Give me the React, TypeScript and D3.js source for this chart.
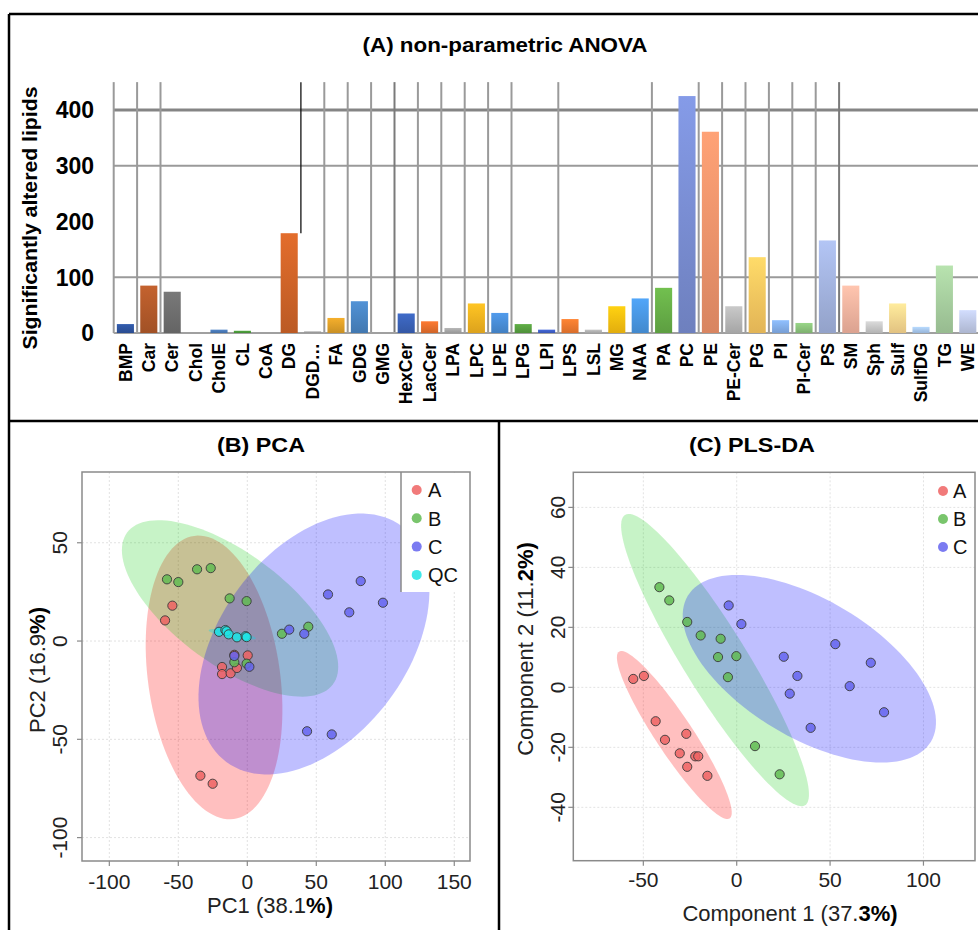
import React from "react";
import * as d3 from "d3";

// ---------- Panel A data ----------
const categories = ["BMP","Car","Cer","Chol","CholE","CL","CoA","DG","DGD…","FA","GDG","GMG","HexCer","LacCer","LPA","LPC","LPE","LPG","LPI","LPS","LSL","MG","NAA","PA","PC","PE","PE-Cer","PG","PI","PI-Cer","PS","SM","Sph","Sulf","SulfDG","TG","WE"];
const counts = [16,85,74,0,6,4,0,179,3,27,57,0,35,21,9,53,36,16,6,25,6,48,62,81,425,361,48,136,23,18,166,85,21,53,11,121,41];
const barColors = ["#2f55a0","#b35a2a","#6f6f6f","#999999","#4a7ab8","#4a9a3a","#888888","#d06428","#a0a0a0","#e0a028","#4a86c4","#999999","#3a62b8","#e8702e","#a8a8a8","#f5b420","#4a8ed8","#58a040","#3f60c8","#f27a30","#b4b4b4","#fcc010","#4a98e4","#68b048","#7a8ed4","#f0946c","#b8b8b8","#fcc860","#84b0ec","#8cc47c","#a4b4e0","#f4b4a0","#c8c8c8","#fcd890","#a8c8f0","#a8d0a0","#c0cae8"];
const barTicks = [0,100,200,300,400];
const barGridValues = [100,300,400];
const gridBoundaries = [0,1,2,9,10,11,12,13,14,15,16,17,19,23,25,26,27,28,29,30,31];

// ---------- Panel B (PCA) data ----------
const pcaA = [[-54.3,18.0],[-59.6,10.5],[0.3,-7.3],[-18.3,-13.2],[-18.3,-16.8],[-12.1,-16.4],[-7.5,-13.7],[-34.0,-68.5],[-25.1,-72.6],[-9.4,-7.0]];
const pcaB = [[-58.2,31.4],[-50,30.0],[-36.4,36.5],[-26.5,37.1],[-12.8,21.7],[-0.5,20.3],[25.1,3.7],[44.2,7.3],[-9.4,-10.8],[-0.5,-11.5]];
const pcaC = [[30.4,5.8],[41.3,3.7],[58.5,23.7],[82.2,30.5],[98.3,19.5],[73.9,14.6],[43.3,-45.9],[61.2,-47.5],[1.5,-13.1],[-9.4,-7.6]];
const pcaQC = [[-20.5,4.7],[-15.9,5.6],[-15,5.0],[-13.5,3.4],[-7.5,1.9],[-1.2,2.5],[-0.5,2.0]];
const pcaEllipses = [
  { g: "A", cx: -24.1, cy: -18.5, ux: 14.4, uy: -72.0, vx: -47.4, vy: -4.7 },
  { g: "B", cx: -12.5, cy: 16.6, ux: 74.6, uy: -38.6, vx: -24.1, vy: -22.9 },
  { g: "C", cx: 48.3, cy: -1.5, ux: 63.5, uy: 60.0, vx: 54.5, vy: -28.4 },
  { g: "QC", cx: -10.9, cy: 3.4, ux: 17.1, uy: -2.1, vx: -0.4, vy: -1.7 },
];
const pcaXTicks = [-100,-50,0,50,100,150];
const pcaYTicks = [-100,-50,0,50];

// ---------- Panel C (PLS-DA) data ----------
const plsA = [[-55.4,2.8],[-49.7,3.8],[-43.4,-11.3],[-38.4,-17.5],[-27.0,-15.5],[-30.5,-22.0],[-26.5,-26.5],[-22.2,-23.0],[-20.6,-23.0],[-15.7,-29.5]];
const plsB = [[-41.4,33.4],[-36.1,29.0],[-26.5,21.8],[-19.3,17.3],[-8.6,16.2],[-10.0,10.1],[-0.2,10.4],[-4.7,3.4],[9.8,-19.6],[23.0,-29.0]];
const plsC = [[-4.3,27.3],[2.5,21.1],[52.8,14.4],[25.2,10.2],[71.8,8.2],[32.5,3.8],[60.5,0.4],[28.4,-2.1],[78.9,-8.3],[39.6,-13.5]];
const plsEllipses = [
  { g: "A", cx: -33.4, cy: -15.9, ux: 29.6, uy: -27.8, vx: -8.3, vy: -3.4 },
  { g: "B", cx: -11.6, cy: 9.1, ux: 48.2, uy: -48.4, vx: -14.4, vy: -5.6 },
  { g: "C", cx: 38.9, cy: 6.2, ux: 65.1, uy: -24.3, vx: -19.0, vy: -19.7 },
];
const plsXTicks = [-50,0,50,100];
const plsYTicks = [-40,-20,0,20,40,60];

const groupFill: Record<string,string> = { A: "#ee6363", B: "#62bb52", C: "#6464ee", QC: "#1ee4e4" };
const ellipseFill: Record<string,string> = { A: "rgba(255,0,0,0.25)", B: "rgba(0,200,0,0.22)", C: "rgba(0,0,255,0.25)", QC: "rgba(0,220,240,0.35)" };

const FONT = "Liberation Sans, Arial, Helvetica, sans-serif";

function ellipsePath(e: any, xs: any, ys: any) {
  const pts: [number, number][] = d3.range(0, 120).map((i) => {
    const t = (i / 120) * Math.PI * 2;
    return [xs(e.cx + e.ux * Math.cos(t) + e.vx * Math.sin(t)), ys(e.cy + e.uy * Math.cos(t) + e.vy * Math.sin(t))];
  });
  return d3.line().curve(d3.curveLinearClosed)(pts) as string;
}

function Scatter(props: any) {
  const { xs, ys, xTicks, yTicks, ellipses, groups, tickLabelY, yTickX } = props;
  const [x0, x1] = xs.range();
  const [y0, y1] = ys.range(); // y0 bottom, y1 top
  return (
    <g>
      {xTicks.map((t: number) => (
        <line key={"gx" + t} x1={xs(t)} x2={xs(t)} y1={y1} y2={y0} stroke="#e2e2e2" strokeDasharray="2,2" />
      ))}
      {yTicks.map((t: number) => (
        <line key={"gy" + t} x1={x0} x2={x1} y1={ys(t)} y2={ys(t)} stroke="#e2e2e2" strokeDasharray="2,2" />
      ))}
      {ellipses.map((e: any) => (
        <path key={"e" + e.g} d={ellipsePath(e, xs, ys)} fill={ellipseFill[e.g]} stroke="none" />
      ))}
      {groups.map((gr: any) =>
        gr.pts.map((p: number[], i: number) => (
          <circle key={gr.g + i} cx={xs(p[0])} cy={ys(p[1])} r={4.6} fill={groupFill[gr.g]} fillOpacity={0.85} stroke="#3a3a3a" strokeWidth={0.9} />
        ))
      )}
      <rect x={x0} y={y1} width={x1 - x0} height={y0 - y1} fill="none" stroke="#8a8a8a" strokeWidth={1.5} />
      {xTicks.map((t: number) => (
        <g key={"xt" + t}>
          <line x1={xs(t)} x2={xs(t)} y1={y0} y2={y0 + 5} stroke="#8a8a8a" strokeWidth={1.2} />
          <text x={xs(t)} y={tickLabelY} textAnchor="middle" fontSize={21} fontFamily={FONT} fill="#222">{t}</text>
        </g>
      ))}
      {yTicks.map((t: number) => (
        <g key={"yt" + t}>
          <line x1={x0 - 5} x2={x0} y1={ys(t)} y2={ys(t)} stroke="#8a8a8a" strokeWidth={1.2} />
          <text transform={`translate(${yTickX},${ys(t)}) rotate(-90)`} textAnchor="middle" fontSize={21} fontFamily={FONT} fill="#222">{t}</text>
        </g>
      ))}
    </g>
  );
}

export default function App() {
  const W = 978, H = 930;
  const xb = d3.scaleBand().domain(categories).range([113.7, 979.5]).paddingInner(0.27).paddingOuter(0.135);
  const yb = d3.scaleLinear().domain([0, 400]).range([333, 110]);
  const gridTop = yb(450);
  const step = xb.step();
  const boundary = (k: number) => (xb(categories[k]) as number) - (step * 0.27) / 2;

  const pcaX = d3.scaleLinear().domain([-119.8, 161.4]).range([82, 470]);
  const pcaY = d3.scaleLinear().domain([-111.9, 86]).range([861, 472]);
  const plsX = d3.scaleLinear().domain([-87.5, 127.6]).range([573.3, 975]);
  const plsY = d3.scaleLinear().domain([-57.8, 71.7]).range([860.7, 472.3]);

  const pcaLegend = ["A", "B", "C", "QC"];
  const plsLegend = ["A", "B", "C"];

  return (
    <div style={{ position: "absolute", left: 0, top: 0 }}>
      <svg width={W} height={H} style={{ display: "block", background: "#fff" }}>
        <defs>
          {barColors.map((c, i) => (
            <linearGradient key={i} id={"bg" + i} x1="0" y1="0" x2="0" y2="1">
              <stop offset="0%" stopColor={d3.color(c)!.brighter(0.25).formatHex()} />
              <stop offset="100%" stopColor={d3.color(c)!.darker(0.3).formatHex()} />
            </linearGradient>
          ))}
        </defs>
        <rect x={0} y={0} width={W} height={H} fill="#fff" />

        {/* ===== Panel A ===== */}
        <text x={505} y={52} textAnchor="middle" fontSize={21} fontWeight="bold" fontFamily={FONT} textLength={285} lengthAdjust="spacingAndGlyphs">(A) non-parametric ANOVA</text>
        {barGridValues.map((v) => (
          <line key={"hg" + v} x1={113.7} x2={W} y1={yb(v)} y2={yb(v)} stroke={v === 400 ? "#858585" : "#9a9a9a"} strokeWidth={v === 400 ? 3 : 2} />
        ))}
        {gridBoundaries.map((k) => (
          <line key={"vg" + k} x1={boundary(k)} x2={boundary(k)} y1={gridTop} y2={yb(0)} stroke={k === 31 || k === 12 ? "#7a7a7a" : "#9a9a9a"} strokeWidth={2} />
        ))}
        <line x1={boundary(8)} x2={boundary(8)} y1={gridTop} y2={yb(counts[7])} stroke="#111" strokeWidth={1.3} />
        <line x1={113.7} x2={W} y1={yb(0)} y2={yb(0)} stroke="#a0a0a0" strokeWidth={2} />
        {categories.map((c, i) => (
          <rect key={"b" + c} x={xb(c)} y={yb(counts[i])} width={xb.bandwidth()} height={yb(0) - yb(counts[i])} fill={`url(#bg${i})`} />
        ))}
        {barTicks.map((t) => (
          <text key={"bt" + t} x={94} y={yb(t)} dy="0.36em" textAnchor="end" fontSize={23} fontWeight="bold" fontFamily={FONT}>{t}</text>
        ))}
        <text transform="translate(37,218) rotate(-90)" textAnchor="middle" fontSize={21} fontWeight="bold" fontFamily={FONT} textLength={263} lengthAdjust="spacingAndGlyphs">Significantly altered lipids</text>
        {categories.map((c) => (
          <text key={"cl" + c} transform={`translate(${(xb(c) as number) + xb.bandwidth() / 2},343) rotate(-90)`} textAnchor="end" dy="0.35em" fontSize={17.5} fontWeight="bold" fontFamily={FONT}>{c}</text>
        ))}

        {/* ===== Panel B ===== */}
        <text x={261} y={452} textAnchor="middle" fontSize={21} fontWeight="bold" fontFamily={FONT} textLength={88} lengthAdjust="spacingAndGlyphs">(B) PCA</text>
        <Scatter xs={pcaX} ys={pcaY} xTicks={pcaXTicks} yTicks={pcaYTicks} ellipses={pcaEllipses}
          groups={[{ g: "A", pts: pcaA }, { g: "B", pts: pcaB }, { g: "C", pts: pcaC }, { g: "QC", pts: pcaQC }]}
          tickLabelY={889} yTickX={67} />
        <rect x={401} y={473} width={68} height={119} fill="#fff" />
        <line x1={401} x2={401} y1={472} y2={592} stroke="#8a8a8a" strokeWidth={1.5} />
        {pcaLegend.map((g, i) => (
          <g key={"pl" + g}>
            <circle cx={416.7} cy={490 + i * 28.3} r={5} fill={groupFill[g]} fillOpacity={0.85} />
            <text x={428} y={490 + i * 28.3} dy="0.36em" fontSize={20} fontFamily={FONT} fill="#111">{g}</text>
          </g>
        ))}
        <text x={270} y={913} textAnchor="middle" fontSize={22} fontFamily={FONT} fill="#222">PC1 (38.1<tspan fontWeight="bold" fill="#000">%)</tspan></text>
        <text transform="translate(45,670) rotate(-90)" textAnchor="middle" fontSize={22} fontFamily={FONT} fill="#222">PC2 (16.9<tspan fontWeight="bold" fill="#000">%)</tspan></text>

        {/* ===== Panel C ===== */}
        <text x={752} y={452} textAnchor="middle" fontSize={21} fontWeight="bold" fontFamily={FONT} textLength={126} lengthAdjust="spacingAndGlyphs">(C) PLS-DA</text>
        <Scatter xs={plsX} ys={plsY} xTicks={plsXTicks} yTicks={plsYTicks} ellipses={plsEllipses}
          groups={[{ g: "A", pts: plsA }, { g: "B", pts: plsB }, { g: "C", pts: plsC }]}
          tickLabelY={887} yTickX={565} />
        {plsLegend.map((g, i) => (
          <g key={"ll" + g}>
            <circle cx={943} cy={491 + i * 28} r={5} fill={groupFill[g]} fillOpacity={0.85} />
            <text x={953} y={491 + i * 28} dy="0.36em" fontSize={20} fontFamily={FONT} fill="#111">{g}</text>
          </g>
        ))}
        <text x={790} y={921} textAnchor="middle" fontSize={22} fontFamily={FONT} fill="#222">Component 1 (37.<tspan fontWeight="bold" fill="#000">3%)</tspan></text>
        <text transform="translate(533,649) rotate(-90)" textAnchor="middle" fontSize={22} fontFamily={FONT} fill="#222">Component 2 (11.<tspan fontWeight="bold" fill="#000">2%)</tspan></text>

        {/* ===== panel borders ===== */}
        <line x1={9} x2={W} y1={14} y2={14} stroke="#000" strokeWidth={2.5} />
        <line x1={9} x2={9} y1={14} y2={H} stroke="#000" strokeWidth={2.5} />
        <line x1={9} x2={W} y1={421} y2={421} stroke="#000" strokeWidth={2.5} />
        <line x1={499} x2={499} y1={421} y2={H} stroke="#000" strokeWidth={2.5} />
      </svg>
    </div>
  );
}
